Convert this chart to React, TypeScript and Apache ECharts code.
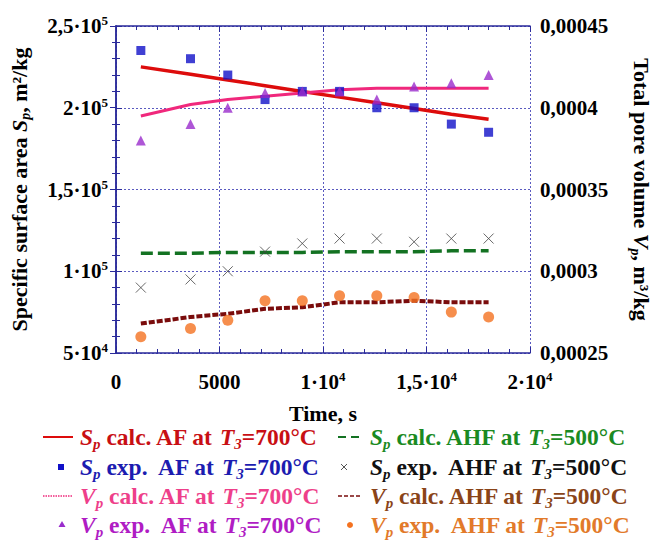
import React, { useEffect, useRef } from "react";
import * as echarts from "echarts";

// ---- data ----
const timeS = [1200, 3600, 5400, 7200, 9000, 10800, 12600, 14400, 16200, 18000];
const spCalcAF = [225000, 220500, 217000, 213500, 210000, 206500, 203000, 199500, 196000, 193000];
const spExpAF = [235000, 230000, 220000, 205000, 210000, 210000, 200000, 200000, 190000, 185000];
const vpCalcAF = [0.000395, 0.000402, 0.000405, 0.000407, 0.000409, 0.000411, 0.000412, 0.000412, 0.000412, 0.000412];
const vpExpAF = [0.00038, 0.00039, 0.0004, 0.000409, 0.00041, 0.00041, 0.000405, 0.000413, 0.000415, 0.00042];
const spCalcAHF = [111000, 111000, 111500, 111500, 111500, 112000, 112000, 112000, 112500, 112500];
const spExpAHF = [90000, 95000, 100000, 112000, 117000, 120000, 120000, 118000, 120000, 120000];
const vpCalcAHF = [0.000268, 0.000272, 0.000274, 0.000277, 0.000278, 0.000281, 0.000281, 0.000282, 0.000281, 0.000281];
const vpExpAHF = [0.00026, 0.000265, 0.00027, 0.000282, 0.000282, 0.000285, 0.000285, 0.000284, 0.000275, 0.000272];

const xTickLabels = ["0", "5000", "1·10^4", "1,5·10^4", "2·10^4"];
const yLeftTickLabels = ["5·10^4", "1·10^5", "1,5·10^5", "2·10^5", "2,5·10^5"];
const yRightTickLabels = ["0,00025", "0,0003", "0,00035", "0,0004", "0,00045"];

const legendNames = [
  ["S", "p", " calc. AF at ", "T", "3", "=700°C"],
  ["S", "p", " exp.  AF at ", "T", "3", "=700°C"],
  ["V", "p", " calc. AF at ", "T", "3", "=700°C"],
  ["V", "p", " exp.  AF at ", "T", "3", "=700°C"],
  ["S", "p", " calc. AHF at ", "T", "3", "=500°C"],
  ["S", "p", " exp.  AHF at ", "T", "3", "=500°C"],
  ["V", "p", " calc. AHF at ", "T", "3", "=500°C"],
  ["V", "p", " exp.  AHF at ", "T", "3", "=500°C"],
];
const legendColors = ["#c80f14", "#1c1cb0", "#ee3f8a", "#b01cc4", "#1a8a22", "#111111", "#8a4418", "#e27a2a"];

const C = {
  red: "#dd0c0c",
  blue: "#1010c8",
  pink: "#f0287c",
  purple: "#9a2ccc",
  green: "#137222",
  gray: "#444444",
  maroon: "#7a0c0c",
  orange: "#f47220",
  axis: "#2a2a9a",
  grid: "#5a5ac0",
};

const SERIF = '"Liberation Serif", "Times New Roman", serif';

function tickFmt(s: string) {
  const parts = s.split("^");
  if (parts.length === 1) return `{b|${parts[0]}}`;
  return `{b|${parts[0]}}{sup|${parts[1]}}`;
}

const labelRich = {
  b: { fontFamily: SERIF, fontWeight: "bold", fontSize: 21, color: "#000", lineHeight: 24 },
  sup: { fontFamily: SERIF, fontWeight: "bold", fontSize: 13, color: "#000", lineHeight: 10, verticalAlign: "top" },
};

function titleRich() {
  return {
    t: { fontFamily: SERIF, fontWeight: "bold", fontSize: 22, color: "#000", lineHeight: 26 },
    i: { fontFamily: SERIF, fontWeight: "bold", fontStyle: "italic", fontSize: 22, color: "#000", lineHeight: 26 },
    s: { fontFamily: SERIF, fontWeight: "bold", fontStyle: "italic", fontSize: 14, color: "#000", lineHeight: 12, verticalAlign: "bottom" },
  };
}

function legendGraphics() {
  const els: any[] = [];
  const rowsY = [437, 467, 496, 525];
  const colSym = [43, 338];
  const colText = [80, 370];
  legendNames.forEach((nm, k) => {
    const col = k < 4 ? 0 : 1;
    const row = k % 4;
    const y = rowsY[row];
    const color = legendColors[k];
    const rich = {
      t: { fontFamily: SERIF, fontWeight: "bold", fontSize: 23.5, fill: color, lineHeight: 28 },
      i: { fontFamily: SERIF, fontWeight: "bold", fontStyle: "italic", fontSize: 23.5, fill: color, lineHeight: 28 },
      s: { fontFamily: SERIF, fontWeight: "bold", fontStyle: "italic", fontSize: 15, fill: color, lineHeight: 13, verticalAlign: "bottom" },
    };
    els.push({
      type: "text",
      x: colText[col],
      y: y,
      style: {
        text: `{i|${nm[0]}}{s|${nm[1]}}{t|${nm[2]}}{i|${nm[3]}}{s|${nm[4]}}{t|${nm[5]}}`,
        rich,
        fill: color,
        verticalAlign: "middle",
        align: "left",
      },
    });
    const sx = colSym[col];
    const symColor = [C.red, C.blue, C.pink, C.purple, C.green, "#555", C.maroon, C.orange][k];
    if (k === 0) {
      els.push({ type: "line", shape: { x1: sx, y1: y, x2: sx + 30, y2: y }, style: { stroke: symColor, lineWidth: 2 } });
    } else if (k === 1) {
      els.push({ type: "rect", shape: { x: sx + 15, y: y - 3, width: 6, height: 6 }, style: { fill: symColor } });
    } else if (k === 2) {
      els.push({ type: "line", shape: { x1: sx, y1: y, x2: sx + 30, y2: y }, style: { stroke: symColor, lineWidth: 1.5, lineDash: [1.5, 1] } });
    } else if (k === 3) {
      els.push({ type: "polygon", shape: { points: [[sx + 19, y - 4], [sx + 22.5, y + 2], [sx + 15.5, y + 2]] }, style: { fill: symColor } });
    } else if (k === 4) {
      els.push({ type: "line", shape: { x1: sx, y1: y, x2: sx + 24, y2: y }, style: { stroke: symColor, lineWidth: 2, lineDash: [8, 5] } });
    } else if (k === 5) {
      els.push({ type: "line", shape: { x1: sx + 3, y1: y - 3, x2: sx + 9, y2: y + 3 }, style: { stroke: symColor, lineWidth: 1 } });
      els.push({ type: "line", shape: { x1: sx + 9, y1: y - 3, x2: sx + 3, y2: y + 3 }, style: { stroke: symColor, lineWidth: 1 } });
    } else if (k === 6) {
      els.push({ type: "line", shape: { x1: sx, y1: y, x2: sx + 24, y2: y }, style: { stroke: symColor, lineWidth: 1.5, lineDash: [4, 2] } });
    } else {
      els.push({ type: "circle", shape: { cx: sx + 12, cy: y, r: 3 }, style: { fill: symColor } });
    }
  });
  return els;
}

export default function App() {
  const ref = useRef<HTMLDivElement>(null);
  useEffect(() => {
    if (!ref.current) return;
    const chart = echarts.init(ref.current, undefined, { renderer: "svg" });
    const pair = (ys: number[]) => timeS.map((t, i) => [t, ys[i]]);
    const axisLine = { show: true, lineStyle: { color: C.axis, width: 1.5 } };
    const tick = { show: true, inside: true, length: 6, lineStyle: { color: C.axis, width: 1 } };
    const minor = { show: true, splitNumber: 5, length: 4, lineStyle: { color: C.axis, width: 1 } };
    const option: any = {
      animation: false,
      backgroundColor: "#ffffff",
      grid: { left: 116, right: 134, top: 26, bottom: 192 },
      xAxis: [
        {
          type: "value",
          min: 0,
          max: 20000,
          interval: 5000,
          position: "bottom",
          axisLine,
          axisTick: tick,
          minorTick: minor,
          splitLine: { show: true, lineStyle: { color: C.grid, type: [2, 2], width: 1 } },
          axisLabel: {
            margin: 17,
            formatter: (v: number) => tickFmt(xTickLabels[Math.round(v / 5000)] ?? String(v)),
            rich: labelRich,
          },
          name: "Time, s",
          nameLocation: "middle",
          nameGap: 49,
          nameTextStyle: { fontFamily: SERIF, fontWeight: "bold", fontSize: 22, color: "#000" },
        },
        {
          type: "value",
          min: 0,
          max: 20000,
          interval: 5000,
          position: "top",
          axisLine,
          axisTick: tick,
          minorTick: minor,
          splitLine: { show: false },
          axisLabel: { show: false },
        },
      ],
      yAxis: [
        {
          type: "value",
          min: 50000,
          max: 250000,
          interval: 50000,
          position: "left",
          axisLine,
          axisTick: tick,
          minorTick: minor,
          splitLine: { show: true, lineStyle: { color: C.grid, type: [2, 2], width: 1 } },
          axisLabel: {
            margin: 8,
            formatter: (v: number) => tickFmt(yLeftTickLabels[Math.round((v - 50000) / 50000)] ?? String(v)),
            rich: labelRich,
          },
          name: "{t|Specific surface area }{i|S}{s|p}{t|, m²/kg}",
          nameLocation: "middle",
          nameRotate: 90,
          nameGap: 84,
          nameTextStyle: { rich: titleRich() },
        },
        {
          type: "value",
          min: 0.00025,
          max: 0.00045,
          interval: 0.00005,
          position: "right",
          axisLine,
          axisTick: tick,
          minorTick: minor,
          splitLine: { show: false },
          axisLabel: {
            margin: 10,
            formatter: (v: number) => `{b|${yRightTickLabels[Math.round((v - 0.00025) / 0.00005)] ?? v}}`,
            rich: labelRich,
          },
          name: "{t|Total pore volume }{i|V}{s|p}{t|, m³/kg}",
          nameLocation: "middle",
          nameRotate: -90,
          nameGap: 98,
          nameTextStyle: { rich: titleRich() },
        },
      ],
      series: [
        {
          name: "Sp calc AF",
          type: "line",
          xAxisIndex: 0,
          yAxisIndex: 0,
          data: pair(spCalcAF),
          showSymbol: false,
          lineStyle: { color: C.red, width: 3.5 },
          z: 3,
        },
        {
          name: "Vp calc AF",
          type: "line",
          xAxisIndex: 0,
          yAxisIndex: 1,
          data: pair(vpCalcAF),
          showSymbol: false,
          lineStyle: { color: C.pink, width: 3 },
          z: 3,
        },
        {
          name: "Sp exp AF",
          type: "scatter",
          yAxisIndex: 0,
          data: pair(spExpAF),
          symbol: "rect",
          symbolSize: 9,
          itemStyle: { color: C.blue },
          z: 4,
        },
        {
          name: "Vp exp AF",
          type: "scatter",
          yAxisIndex: 1,
          data: pair(vpExpAF),
          symbol: "triangle",
          symbolSize: 10,
          itemStyle: { color: C.purple },
          z: 4,
        },
        {
          name: "Sp calc AHF",
          type: "line",
          yAxisIndex: 0,
          data: pair(spCalcAHF),
          showSymbol: false,
          lineStyle: { color: C.green, width: 3.5, type: [12, 5] },
          z: 3,
        },
        {
          name: "Sp exp AHF",
          type: "scatter",
          yAxisIndex: 0,
          data: pair(spExpAHF),
          symbol: "path://M0,0L10,10M10,0L0,10",
          symbolSize: 10,
          itemStyle: { color: "none", borderColor: C.gray, borderWidth: 1 },
          z: 4,
        },
        {
          name: "Vp calc AHF",
          type: "line",
          yAxisIndex: 1,
          data: pair(vpCalcAHF),
          showSymbol: false,
          lineStyle: { color: C.maroon, width: 4, type: [6, 2] },
          z: 3,
        },
        {
          name: "Vp exp AHF",
          type: "scatter",
          yAxisIndex: 1,
          data: pair(vpExpAHF),
          symbol: "circle",
          symbolSize: 11,
          itemStyle: { color: C.orange },
          z: 4,
        },
      ],
      graphic: legendGraphics(),
    };
    chart.setOption(option);
    return () => chart.dispose();
  }, []);
  return (
    <div
      ref={ref}
      style={{ position: "fixed", left: 0, top: 0, width: 664, height: 545, background: "#fff" }}
    />
  );
}
